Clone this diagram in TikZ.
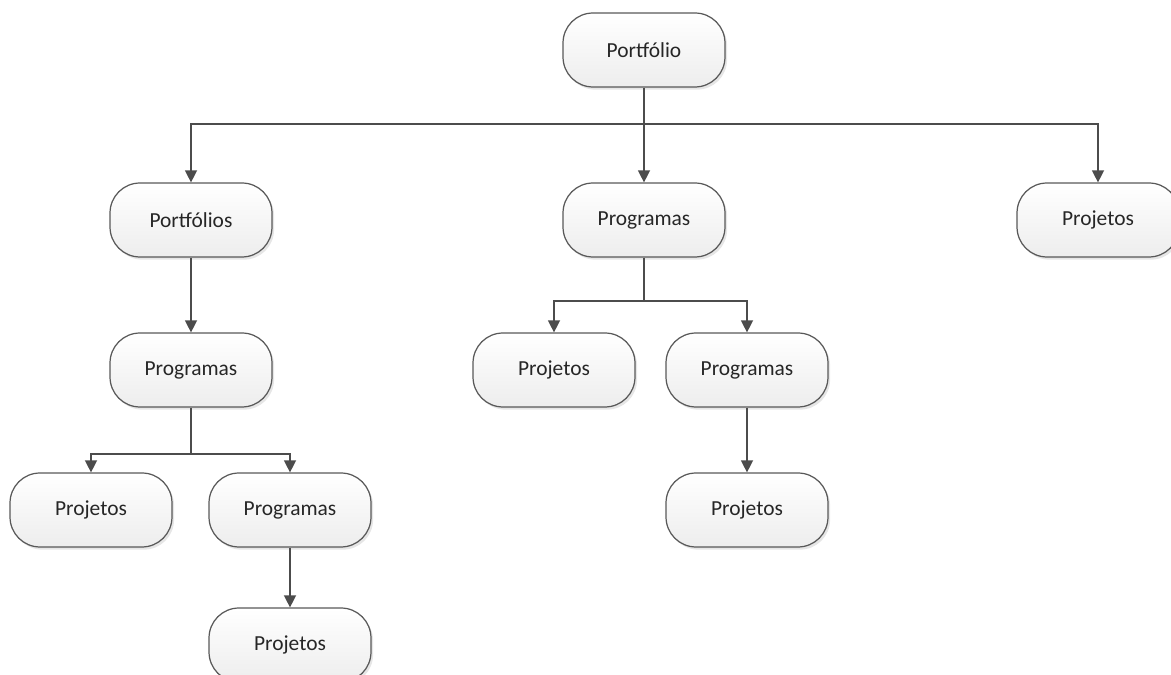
\documentclass[tikz,border=0pt]{standalone}
\usepackage{fontspec}
\setmainfont{Carlito}
\usepackage{tikz}
\usetikzlibrary{arrows.meta, positioning, shadows}

\begin{document}
\begin{tikzpicture}[
    x=0.02cm, y=-0.02cm,
    item/.style={rectangle, rounded corners=0.6cm, draw=black!65, line width=0.7pt,
        top color=white, bottom color=black!7, text=black!85,
        minimum width=3.24cm, minimum height=1.48cm, font=\fontsize{12.2}{14}\selectfont,
        drop shadow={shadow xshift=1.2pt, shadow yshift=-1.5pt, opacity=0.2}},
    line/.style={draw=black!70, line width=0.8pt},
    arrow/.style={line, -{Triangle[length=0.24cm, width=0.24cm]}}
]
\useasboundingbox (0,0) rectangle (1171,675);

% topo
\node (root) [item] at (644,50) {Portfólio};

% primeiro nível
\node (portfolios) [item] at (191,220) {Portfólios};
\node (progM) [item] at (644,220) {Programas};
\node (projR) [item] at (1098,220) {Projetos};

% ramo esquerdo
\node (progL) [item] at (191,370) {Programas};
\node (projLL) [item] at (91,510) {Projetos};
\node (progLR) [item] at (290,510) {Programas};
\node (projLB) [item] at (290,645) {Projetos};

% ramo do meio
\node (projM) [item] at (554,370) {Projetos};
\node (progMR) [item] at (747,370) {Programas};
\node (projMB) [item] at (747,510) {Projetos};

% pontos de divisão
\coordinate (s1) at (644,124);
\coordinate (s2) at (644,301);
\coordinate (s3) at (191,454);

\draw [line] (root) -- (s1);
\draw [arrow] (s1) -| (portfolios);
\draw [arrow] (s1) -- (progM);
\draw [arrow] (s1) -| (projR);

\draw [arrow] (portfolios) -- (progL);
\draw [line] (progL) -- (s3);
\draw [arrow] (s3) -| (projLL);
\draw [arrow] (s3) -| (progLR);
\draw [arrow] (progLR) -- (projLB);

\draw [line] (progM) -- (s2);
\draw [arrow] (s2) -| (projM);
\draw [arrow] (s2) -| (progMR);
\draw [arrow] (progMR) -- (projMB);

\end{tikzpicture}
\end{document}
